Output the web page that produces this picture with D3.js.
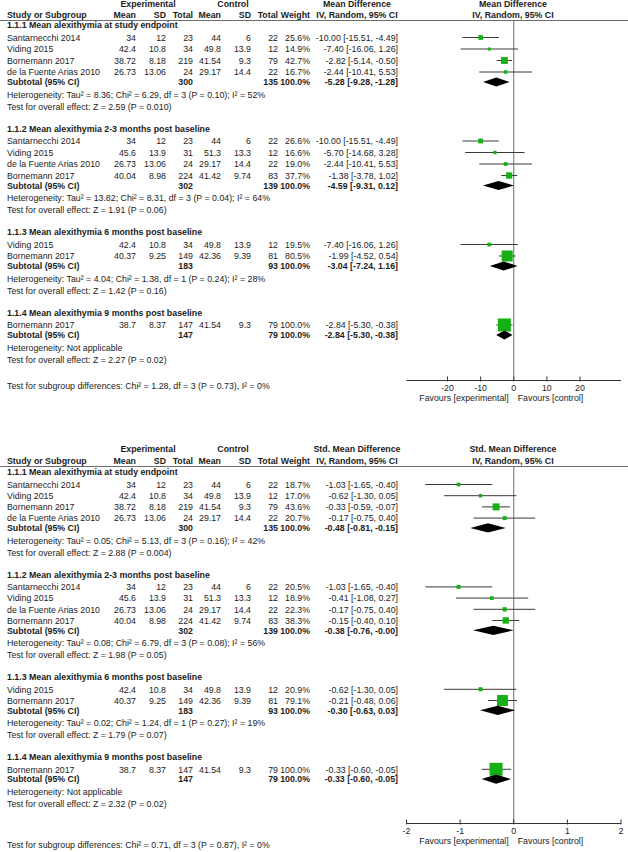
<!DOCTYPE html>
<html><head><meta charset="utf-8">
<script src="https://cdn.jsdelivr.net/npm/d3@7"></script>
<style>html,body{margin:0;padding:0;background:#fff;}svg{display:block;}</style>
</head><body>
<script>
// ---------------- DATA ----------------
const groupTitles = [
  "1.1.1 Mean alexithymia at study endpoint",
  "1.1.2 Mean alexithymia 2-3 months post baseline",
  "1.1.3 Mean alexithymia 6 months post baseline",
  "1.1.4 Mean alexithymia 9 months post baseline"
];
const studyNames = [
  ["Santarnecchi 2014", "Viding 2015", "Bornemann 2017", "de la Fuente Arias 2010"],
  ["Santarnecchi 2014", "Viding 2015", "de la Fuente Arias 2010", "Bornemann 2017"],
  ["Viding 2015", "Bornemann 2017"],
  ["Bornemann 2017"]
];
// [expMean, expSD, expTotal, ctlMean, ctlSD, ctlTotal]
const rawData = [
  [[34,12,23,44,6,22],[42.4,10.8,34,49.8,13.9,12],[38.72,8.18,219,41.54,9.3,79],[26.73,13.06,24,29.17,14.4,22]],
  [[34,12,23,44,6,22],[45.6,13.9,31,51.3,13.3,12],[26.73,13.06,24,29.17,14.4,22],[40.04,8.98,224,41.42,9.74,83]],
  [[42.4,10.8,34,49.8,13.9,12],[40.37,9.25,149,42.36,9.39,81]],
  [[38.7,8.37,147,41.54,9.3,79]]
];
const subtotalN = [[300,135],[302,139],[183,93],[147,79]];

// Mean Difference panel
const mdWeights = [[25.6,14.9,42.7,16.7],[26.6,16.6,19.0,37.7],[19.5,80.5],[100.0]];
const mdEst = [[-10.00,-7.40,-2.82,-2.44],[-10.00,-5.70,-2.44,-1.38],[-7.40,-1.99],[-2.84]];
const mdLo  = [[-15.51,-16.06,-5.14,-10.41],[-15.51,-14.68,-10.41,-3.78],[-16.06,-4.52],[-5.30]];
const mdHi  = [[-4.49,1.26,-0.50,5.53],[-4.49,3.28,5.53,1.02],[1.26,0.54],[-0.38]];
const mdSub = [[-5.28,-9.28,-1.28],[-4.59,-9.31,0.12],[-3.04,-7.24,1.16],[-2.84,-5.30,-0.38]];
const mdHet = [
  "Heterogeneity: Tau² = 8.36; Chi² = 6.29, df = 3 (P = 0.10); I² = 52%",
  "Heterogeneity: Tau² = 13.82; Chi² = 8.31, df = 3 (P = 0.04); I² = 64%",
  "Heterogeneity: Tau² = 4.04; Chi² = 1.38, df = 1 (P = 0.24); I² = 28%",
  "Heterogeneity: Not applicable"
];
const mdTest = [
  "Test for overall effect: Z = 2.59 (P = 0.010)",
  "Test for overall effect: Z = 1.91 (P = 0.06)",
  "Test for overall effect: Z = 1.42 (P = 0.16)",
  "Test for overall effect: Z = 2.27 (P = 0.02)"
];
const mdSubgroupTest = "Test for subgroup differences: Chi² = 1.28, df = 3 (P = 0.73), I² = 0%";
const mdTicks = [-20,-10,0,10,20];

// Std. Mean Difference panel
const smdWeights = [[18.7,17.0,43.6,20.7],[20.5,18.9,22.3,38.3],[20.9,79.1],[100.0]];
const smdEst = [[-1.03,-0.62,-0.33,-0.17],[-1.03,-0.41,-0.17,-0.15],[-0.62,-0.21],[-0.33]];
const smdLo  = [[-1.65,-1.30,-0.59,-0.75],[-1.65,-1.08,-0.75,-0.40],[-1.30,-0.48],[-0.60]];
const smdHi  = [[-0.40,0.05,-0.07,0.40],[-0.40,0.27,0.40,0.10],[0.05,0.06],[-0.05]];
const smdSub = [[-0.48,-0.81,-0.15],[-0.38,-0.76,-0.00],[-0.30,-0.63,0.03],[-0.33,-0.60,-0.05]];
const smdHet = [
  "Heterogeneity: Tau² = 0.05; Chi² = 5.13, df = 3 (P = 0.16); I² = 42%",
  "Heterogeneity: Tau² = 0.08; Chi² = 6.79, df = 3 (P = 0.08); I² = 56%",
  "Heterogeneity: Tau² = 0.02; Chi² = 1.24, df = 1 (P = 0.27); I² = 19%",
  "Heterogeneity: Not applicable"
];
const smdTest = [
  "Test for overall effect: Z = 2.88 (P = 0.004)",
  "Test for overall effect: Z = 1.98 (P = 0.05)",
  "Test for overall effect: Z = 1.79 (P = 0.07)",
  "Test for overall effect: Z = 2.32 (P = 0.02)"
];
const smdSubgroupTest = "Test for subgroup differences: Chi² = 0.71, df = 3 (P = 0.87), I² = 0%";
const smdTicks = [-2,-1,0,1,2];

// ---------------- DRAW ----------------
const W = 628, H = 852;
const svg = d3.select("body").append("svg").attr("width", W).attr("height", H);
const FONT = "'Liberation Sans', Arial, Helvetica, sans-serif";
const FS = 8.8;
const TXT = "#1c1c1c";
const GREEN = "#14b014";

const fmt2 = v => ((v < 0 || Object.is(v, -0)) ? "-" : "") + Math.abs(v).toFixed(2);
const fmtTick = v => (v < 0 ? "-" : "") + Math.abs(v);
const ciText = (e, l, h) => `${fmt2(e)} [${fmt2(l)}, ${fmt2(h)}]`;

const cols = { name: 7, eMean: 136, eSD: 166, eN: 193, cMean: 221, cSD: 251, cN: 278, w: 310, eff: 398, effC: 357, plotC: 513 };
const sizeScale = d3.scalePow().exponent(0.75).domain([0, 100]).range([0, 13]);

function txt(g, x, y, s, anchor, bold) {
  return g.append("text").attr("x", x).attr("y", y + 3.2)
    .attr("text-anchor", anchor || "start")
    .attr("font-family", FONT).attr("font-size", FS)
    .attr("font-weight", bold ? "bold" : "normal")
    .attr("fill", TXT).text(s);
}

function drawPanel(p) {
  const g = svg.append("g");
  const x = d3.scaleLinear().domain(p.domain).range([406.5, 621]);
  // headers
  txt(g, 148, p.h1, "Experimental", "middle", true);
  txt(g, 233, p.h1, "Control", "middle", true);
  txt(g, cols.effC, p.h1, p.title, "middle", true);
  txt(g, cols.plotC, p.h1, p.title, "middle", true);
  txt(g, cols.name, p.h2, "Study or Subgroup", "start", true);
  txt(g, cols.eMean, p.h2, "Mean", "end", true);
  txt(g, cols.eSD, p.h2, "SD", "end", true);
  txt(g, cols.eN, p.h2, "Total", "end", true);
  txt(g, cols.cMean, p.h2, "Mean", "end", true);
  txt(g, cols.cSD, p.h2, "SD", "end", true);
  txt(g, cols.cN, p.h2, "Total", "end", true);
  txt(g, cols.w, p.h2, "Weight", "end", true);
  txt(g, cols.effC, p.h2, "IV, Random, 95% CI", "middle", true);
  txt(g, cols.plotC, p.h2, "IV, Random, 95% CI", "middle", true);
  g.append("line").attr("x1", 0).attr("x2", W).attr("y1", p.line).attr("y2", p.line)
    .attr("stroke", "#6e6e6e").attr("stroke-width", 1);

  // vertical zero line
  g.append("line").attr("x1", x(0)).attr("x2", x(0)).attr("y1", p.line).attr("y2", p.axisY)
    .attr("stroke", "#6e6e6e").attr("stroke-width", 1);

  let y = p.firstSec;
  const s = p.steps;
  groupTitles.forEach((title, gi) => {
    txt(g, cols.name, y, title, "start", true);
    y += s.secStudy;
    studyNames[gi].forEach((nm, si) => {
      const r = rawData[gi][si];
      txt(g, cols.name, y, nm);
      txt(g, cols.eMean, y, String(r[0]), "end");
      txt(g, cols.eSD, y, String(r[1]), "end");
      txt(g, cols.eN, y, String(r[2]), "end");
      txt(g, cols.cMean, y, String(r[3]), "end");
      txt(g, cols.cSD, y, String(r[4]), "end");
      txt(g, cols.cN, y, String(r[5]), "end");
      const w = p.weights[gi][si];
      txt(g, cols.w, y, w.toFixed(1) + "%", "end");
      const e = p.est[gi][si], lo = p.lo[gi][si], hi = p.hi[gi][si];
      txt(g, cols.eff, y, ciText(e, lo, hi), "end");
      g.append("line").attr("x1", x(lo)).attr("x2", x(hi)).attr("y1", y).attr("y2", y)
        .attr("stroke", "#3a3a3a").attr("stroke-width", 1);
      const sz = Math.max(3, sizeScale(w));
      g.append("rect").attr("x", x(e) - sz / 2).attr("y", y - sz / 2)
        .attr("width", sz).attr("height", sz).attr("fill", GREEN);
      if (si < studyNames[gi].length - 1) y += s.study;
    });
    y += s.studySub;
    txt(g, cols.name, y, "Subtotal (95% CI)", "start", true);
    txt(g, cols.eN, y, String(subtotalN[gi][0]), "end", true);
    txt(g, cols.cN, y, String(subtotalN[gi][1]), "end", true);
    txt(g, cols.w, y, "100.0%", "end", true);
    const [se, sl, sh] = p.sub[gi];
    txt(g, cols.eff, y, ciText(se, sl, sh), "end", true);
    const dh = 4.6;
    g.append("path")
      .attr("d", `M${x(sl)},${y}L${x(se)},${y - dh}L${x(sh)},${y}L${x(se)},${y + dh}Z`)
      .attr("fill", "#000");
    y += s.subHet;
    txt(g, cols.name, y, p.het[gi]);
    y += s.hetTest;
    txt(g, cols.name, y, p.test[gi]);
    y += s.testSec;
  });

  // axis
  g.append("line").attr("x1", 406.5).attr("x2", 621).attr("y1", p.axisY).attr("y2", p.axisY)
    .attr("stroke", "#333").attr("stroke-width", 1);
  p.ticks.forEach(t => {
    g.append("line").attr("x1", x(t)).attr("x2", x(t)).attr("y1", p.axisY - 4).attr("y2", p.axisY + 1)
      .attr("stroke", "#333").attr("stroke-width", 1);
    txt(g, x(t), p.axisY + 7.5, fmtTick(t), "middle");
  });
  txt(g, x(0) - 5, p.axisY + 17.5, "Favours [experimental]", "end");
  txt(g, x(0) + 4, p.axisY + 17.5, "Favours [control]", "start");

  txt(g, cols.name, p.subgroupY, p.subgroupTest);
}

drawPanel({
  title: "Mean Difference", h1: 4, h2: 15, line: 20.5, firstSec: 25,
  steps: { secStudy: 12.5, study: 11.5, studySub: 10, subHet: 12.5, hetTest: 12, testSec: 22 },
  axisY: 380.5, subgroupY: 386, domain: [-32.4, 32.4], ticks: mdTicks,
  weights: mdWeights, est: mdEst, lo: mdLo, hi: mdHi, sub: mdSub,
  het: mdHet, test: mdTest, subgroupTest: mdSubgroupTest
});
drawPanel({
  title: "Std. Mean Difference", h1: 449, h2: 461, line: 466.5, firstSec: 472,
  steps: { secStudy: 12.5, study: 11.2, studySub: 9.8, subHet: 12.5, hetTest: 12, testSec: 22 },
  axisY: 823.5, subgroupY: 845, domain: [-2, 2], ticks: smdTicks,
  weights: smdWeights, est: smdEst, lo: smdLo, hi: smdHi, sub: smdSub,
  het: smdHet, test: smdTest, subgroupTest: smdSubgroupTest
});
</script>
</body></html>
